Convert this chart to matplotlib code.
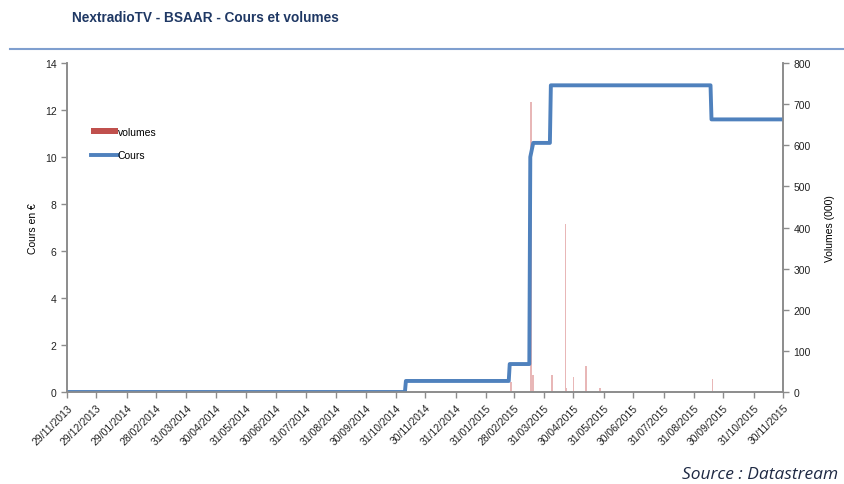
import numpy as np
import pandas as pd
import matplotlib
matplotlib.use('Agg')
import matplotlib.pyplot as plt
from matplotlib.patches import Patch
from matplotlib.lines import Line2D

plt.rcParams['font.family'] = ['Liberation Sans', 'DejaVu Sans']

# Cours (EUR) - step changes
cours_dates = ['2013-11-29', '2014-11-09', '2014-11-10', '2015-02-23', '2015-02-24',
               '2015-03-16', '2015-03-17', '2015-03-20', '2015-04-06', '2015-04-07',
               '2015-09-17', '2015-09-18', '2015-11-30']
cours_values = [0.0, 0.0, 0.47, 0.47, 1.19,
                1.19, 10.0, 10.6, 10.6, 13.05,
                13.05, 11.6, 11.6]

# Volumes (000)
vol_dates = ['2015-02-25', '2015-03-18', '2015-03-20', '2015-04-08', '2015-04-22',
             '2015-04-23', '2015-04-30', '2015-05-13', '2015-05-27', '2015-09-19']
vol_values = [24, 705, 41, 42, 408, 10, 36, 64, 10, 32]

tick_labels = ['29/11/2013', '29/12/2013', '29/01/2014', '28/02/2014', '31/03/2014',
               '30/04/2014', '31/05/2014', '30/06/2014', '31/07/2014', '31/08/2014',
               '30/09/2014', '31/10/2014', '30/11/2014', '31/12/2014', '31/01/2015',
               '28/02/2015', '31/03/2015', '30/04/2015', '31/05/2015', '30/06/2015',
               '31/07/2015', '31/08/2015', '30/09/2015', '31/10/2015', '30/11/2015']

cd = pd.to_datetime(cours_dates)
vd = pd.to_datetime(vol_dates)
ticks = pd.to_datetime(tick_labels, format='%d/%m/%Y')

fig = plt.figure(figsize=(8.44, 4.85), dpi=100)
ax = fig.add_axes([67/844, 1-393/485, (783-67)/844, (393-64)/485])
ax2 = ax.twinx()

ax2.bar(vd, vol_values, width=1.8, color='#E6AFAF', alpha=0.9, linewidth=0)
ax.plot(cd, cours_values, color='#4F81BD', linewidth=2.8, solid_joinstyle='round')

ax.set_zorder(ax2.get_zorder() + 1)
ax.patch.set_visible(False)

ax.set_xlim(ticks[0], ticks[-1])
ax.set_ylim(0, 14)
ax2.set_ylim(0, 800)
ax.set_yticks(np.arange(0, 15, 2))
ax2.set_yticks(np.arange(0, 801, 100))
ax.set_xticks(ticks)
ax.set_xticklabels(tick_labels, rotation=45, ha='right', rotation_mode='anchor', fontsize=7.2)

for a in (ax, ax2):
    a.spines['top'].set_visible(False)
    for s in ('left', 'right', 'bottom'):
        a.spines[s].set_color('#8C8C8C')
        a.spines[s].set_linewidth(1.2)
    a.tick_params(colors='#8C8C8C', labelcolor='#222222', labelsize=7.5, length=4, width=1)

ax.set_ylabel('Cours en €', fontsize=7.5, labelpad=5)
ax2.set_ylabel('Volumes (000)', fontsize=7.5, rotation=90, labelpad=10)

handles = [Patch(facecolor='#C0504D', edgecolor='none'),
           Line2D([0], [0], color='#4F81BD', linewidth=2.8)]
ax.legend(handles, ['volumes', 'Cours'], loc='upper left', bbox_to_anchor=(0.02, 0.835),
          frameon=False, fontsize=7.5, handlelength=2.6, handletextpad=0.0,
          labelspacing=1.3, handleheight=0.6)

fig.text(72/844, 1-18/485, 'NextradioTV - BSAAR - Cours et volumes',
         fontsize=9.8, fontweight='bold', color='#1F3864', va='center',
         family=['Liberation Sans Narrow', 'Liberation Sans'])
fig.add_artist(Line2D([10/844, 1], [1-50/485, 1-50/485], color='#7F9FCF', linewidth=1.5))
fig.text(838/844, 1-475/485, 'Source : Datastream', fontsize=12.5, style='italic',
         color='#1F2A44', ha='right', va='center', family=['Open Sans', 'DejaVu Sans'])

fig.savefig('out.png', dpi=100)
